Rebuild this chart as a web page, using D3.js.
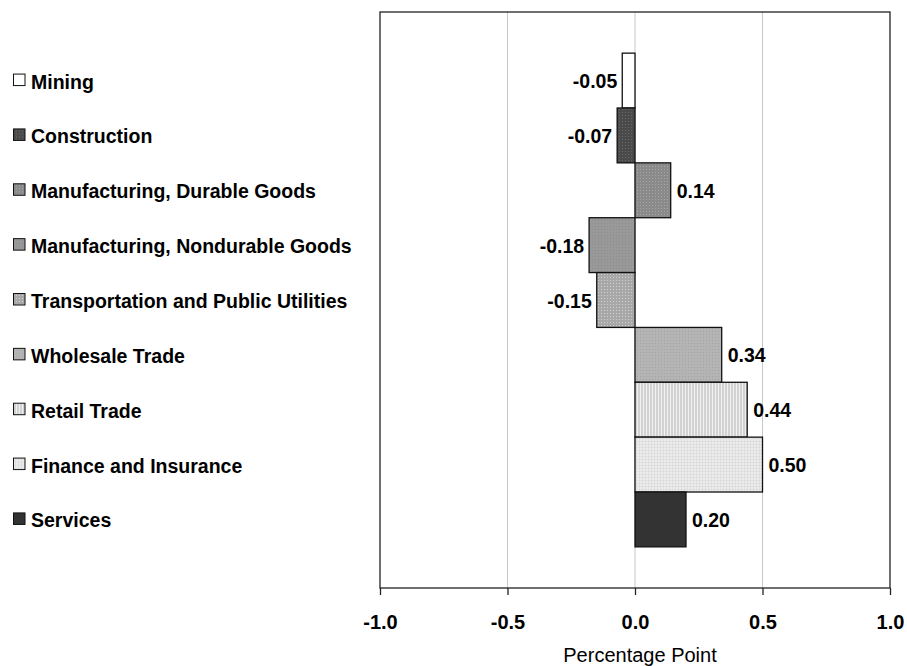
<!DOCTYPE html>
<html><head><meta charset="utf-8">
<script src="https://cdn.jsdelivr.net/npm/d3@7"></script>
<style>body{margin:0;background:#fff}svg{display:block}</style>
</head><body>
<script>
const categories = ["Mining","Construction","Manufacturing, Durable Goods","Manufacturing, Nondurable Goods","Transportation and Public Utilities","Wholesale Trade","Retail Trade","Finance and Insurance","Services"];
const values = [-0.05,-0.07,0.14,-0.18,-0.15,0.34,0.44,0.50,0.20];
const labels = ["-0.05","-0.07","0.14","-0.18","-0.15","0.34","0.44","0.50","0.20"];
const tickValues = [-1.0,-0.5,0.0,0.5,1.0];
const tickLabels = ["-1.0","-0.5","0.0","0.5","1.0"];
const baseColors = ["#ffffff","#4a4a4a","#8a8a8a","#999999","#a8a8a8","#b4b4b4","#d2d2d2","#ececec","#333333"];
const dotColors  = ["#ffffff","#6a6a6a","#a8a8a8","#8c8c8c","#d0d0d0","#a4a4a4","#f0f0f0","#ffffff","#333333"];

const W=907,H=666;
const FONT="Liberation Sans, Arial, sans-serif";
const svg=d3.select("body").append("svg").attr("width",W).attr("height",H);
const defs=svg.append("defs");
baseColors.forEach((c,i)=>{
  const p=defs.append("pattern").attr("id","p"+i).attr("patternUnits","userSpaceOnUse").attr("width",3).attr("height",3);
  p.append("rect").attr("width",3).attr("height",3).attr("fill",c);
  if(i===6){ p.append("rect").attr("x",1).attr("width",1).attr("height",3).attr("fill",dotColors[i]); }
  else if(i===7){ p.append("rect").attr("width",3).attr("height",1).attr("fill","#d8d8d8").attr("opacity",0.6);
                  p.append("rect").attr("width",1).attr("height",3).attr("fill","#d8d8d8").attr("opacity",0.6); }
  else p.append("rect").attr("x",1).attr("y",1).attr("width",1).attr("height",1).attr("fill",dotColors[i]);
});

const L=380,R=890,T=12,B=588;
const x=d3.scaleLinear().domain([-1,1]).range([L,R]);
const y=d3.scaleBand().domain(categories).range([T,B]).paddingInner(0).paddingOuter(0.75);

// gridlines
svg.append("g").selectAll("line").data(tickValues.slice(1,-1)).join("line")
  .attr("x1",d=>x(d)).attr("x2",d=>x(d)).attr("y1",T).attr("y2",B)
  .attr("stroke","#c8c8c8").attr("stroke-width",1);

// bars
svg.append("g").selectAll("rect").data(categories).join("rect")
  .attr("x",(d,i)=>x(Math.min(0,values[i])))
  .attr("y",d=>y(d))
  .attr("width",(d,i)=>Math.abs(x(values[i])-x(0)))
  .attr("height",y.bandwidth())
  .attr("fill",(d,i)=>`url(#p${i})`)
  .attr("stroke","#111").attr("stroke-width",1.3);

// value labels
svg.append("g").selectAll("text").data(categories).join("text")
  .attr("x",(d,i)=>values[i]<0? x(values[i])-5 : x(values[i])+6)
  .attr("y",d=>y(d)+y.bandwidth()/2+7.5)
  .attr("text-anchor",(d,i)=>values[i]<0?"end":"start")
  .attr("font-family",FONT)
  .attr("font-weight","bold").attr("font-size",19.5).attr("fill","#000")
  .text((d,i)=>labels[i]);

// frame
svg.append("rect").attr("x",L).attr("y",T).attr("width",R-L).attr("height",B-T)
  .attr("fill","none").attr("stroke","#222").attr("stroke-width",1.3);

// x axis
const ax=svg.append("g").attr("transform",`translate(0,${B})`)
  .call(d3.axisBottom(x).tickValues(tickValues).tickSize(7).tickFormat((d,i)=>tickLabels[i]));
ax.select(".domain").remove();
ax.selectAll("line").attr("stroke","#222").attr("stroke-width",1.3);
ax.selectAll("text").attr("y",41).attr("dy",null).attr("font-family",FONT)
  .attr("font-weight","bold").attr("font-size",20).attr("fill","#000");

svg.append("text").attr("x",x(0)+5).attr("y",662).attr("text-anchor","middle")
  .attr("font-family",FONT).attr("font-size",20).attr("fill","#000")
  .text("Percentage Point");

// legend
const lg=svg.append("g").selectAll("g").data(categories).join("g")
  .attr("transform",d=>`translate(0,${y(d)+y.bandwidth()/2})`);
lg.append("rect").attr("x",13.5).attr("y",-6.5).attr("width",11.5).attr("height",11.5)
  .attr("fill",(d,i)=>`url(#p${i})`).attr("stroke","#111").attr("stroke-width",1);
lg.append("text").attr("x",31).attr("y",8)
  .attr("font-family",FONT).attr("font-weight","bold").attr("font-size",19.5).attr("fill","#000")
  .text(d=>d);
</script>
</body></html>
